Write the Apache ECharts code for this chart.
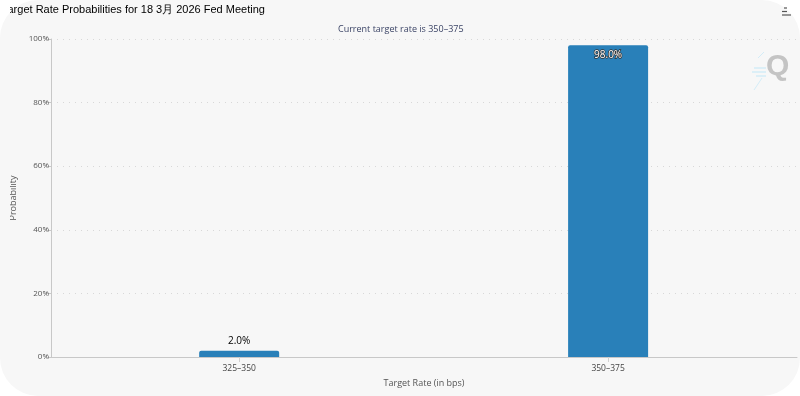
<!DOCTYPE html>
<html>
<head>
<meta charset="utf-8">
<script src="https://cdn.jsdelivr.net/npm/echarts@6/dist/echarts.min.js"></script>
<style>
html,body{margin:0;padding:0;background:#ffffff;width:800px;height:396px;overflow:hidden;}
#bg{position:absolute;left:0;top:0;width:800px;height:396px;background:#f7f7f7;border-radius:38px;}
#chart{position:absolute;left:10px;top:0;width:790px;height:396px;}
</style>
</head>
<body>
<div id="bg"></div>
<div id="chart"></div>
<script>
const titleText = 'Target Rate Probabilities for 18 3月 2026 Fed Meeting';
const subtitleText = 'Current target rate is 350–375';
const categories = ['325–350', '350–375'];
const probabilities = [2.0, 98.0];
const xAxisName = 'Target Rate (in bps)';
const yAxisName = 'Probability';
const yTicks = [0, 20, 40, 60, 80, 100];

const chart = echarts.init(document.getElementById('chart'), null, {renderer: 'canvas'});
const labelFont = '"Open Sans", "DejaVu Sans", sans-serif';
const catIndex = categories.map(function (c, i) { return i; });

const barData = probabilities.map(function (v, i) {
  const big = v > 50;
  return {
    value: [i, v],
    label: big ? {
      position: 'insideTop', distance: 5, color: '#ffffff',
      textBorderColor: '#333333', textBorderWidth: 1.5,
      fontSize: 10, fontFamily: labelFont
    } : {
      position: 'top', distance: 4, color: '#000000',
      fontSize: 10, fontFamily: labelFont
    }
  };
});

chart.setOption({
  animation: false,
  backgroundColor: 'transparent',
  title: {
    text: subtitleText, left: 323, top: 20,
    textStyle: {fontSize: 9, fontWeight: 'normal', color: '#3b4466', fontFamily: labelFont}
  },
  grid: {left: 41, right: 3, top: 39, bottom: 39, outerBoundsMode: 'none', containLabel: false},
  xAxis: {
    type: 'value', min: -0.51, max: 1.512,
    name: xAxisName, nameLocation: 'middle', nameGap: 22,
    nameTextStyle: {fontSize: 9, color: '#555555', fontFamily: labelFont},
    splitLine: {show: false},
    axisLine: {show: true, onZero: false, lineStyle: {color: '#c8c8c8', width: 1}},
    axisTick: {show: true, customValues: catIndex, length: 5, lineStyle: {color: '#d0d0d0'}},
    axisLabel: {fontSize: 8.5, color: '#444444', margin: 7, fontFamily: labelFont,
      customValues: catIndex,
      formatter: function (v) { return categories[Math.round(v)]; }}
  },
  yAxis: {
    type: 'value', min: 0, max: 100, interval: 20,
    name: yAxisName, nameLocation: 'middle', nameGap: 28, nameRotate: 90,
    nameTextStyle: {fontSize: 9, color: '#555555', fontFamily: labelFont},
    axisLine: {show: true, onZero: false, lineStyle: {color: '#c8c8c8', width: 1}},
    axisTick: {show: true, length: 4, lineStyle: {color: '#c8c8c8'}},
    axisLabel: {fontSize: 8, color: '#555555', margin: 2, fontFamily: labelFont,
      formatter: function (v) { return yTicks.indexOf(v) >= 0 ? v + '%' : ''; }},
    splitLine: {show: true, lineStyle: {color: '#d8d8d8', type: [1, 5], width: 1}}
  },
  series: [{
    type: 'bar', data: barData, barWidth: 80,
    itemStyle: {color: '#2980b9', borderRadius: [2, 2, 0, 0]},
    label: {show: true, formatter: function (p) { return p.value[1].toFixed(1) + '%'; }}
  }],
  graphic: [
    {type: 'text', x: -8, y: 4, style: {text: titleText, fontSize: 11, fill: '#000000', fontFamily: '"Liberation Sans", Arial, sans-serif', textVerticalAlign: 'top'}},
    {type: 'line', shape: {x1: 774, y1: 8, x2: 777, y2: 8}, style: {stroke: '#555', lineWidth: 1.2}},
    {type: 'line', shape: {x1: 772, y1: 11.5, x2: 777, y2: 11.5}, style: {stroke: '#555', lineWidth: 1.2}},
    {type: 'line', shape: {x1: 772, y1: 15, x2: 781, y2: 15}, style: {stroke: '#555', lineWidth: 1.2}},
    {type: 'text', left: 756, top: 52, style: {text: 'Q', fontSize: 30, fontWeight: 'bold', fill: '#c4c4c4', fontFamily: '"Liberation Sans", Arial, sans-serif'}},
    {type: 'line', shape: {x1: 748, y1: 58, x2: 754, y2: 52}, style: {stroke: '#d3ecf7', lineWidth: 1}},
    {type: 'line', shape: {x1: 744, y1: 68, x2: 756, y2: 68}, style: {stroke: '#d3ecf7', lineWidth: 1.5}},
    {type: 'line', shape: {x1: 742, y1: 72, x2: 756, y2: 72}, style: {stroke: '#d3ecf7', lineWidth: 1.5}},
    {type: 'line', shape: {x1: 746, y1: 76, x2: 756, y2: 76}, style: {stroke: '#d3ecf7', lineWidth: 1.5}},
    {type: 'line', shape: {x1: 744, y1: 90, x2: 752, y2: 78}, style: {stroke: '#d3ecf7', lineWidth: 1}}
  ]
});
</script>
</body>
</html>
